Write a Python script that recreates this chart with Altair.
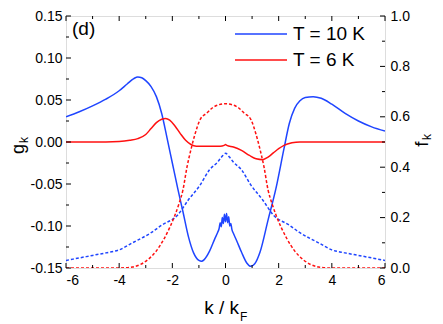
import altair as alt
import pandas as pd

# ---------------- data ----------------
# g_k, T = 10 K (solid blue, left axis)
k_g10 = [-6, -5.5, -5, -4.5, -4, -3.7, -3.45, -3.3, -3.15, -3.0, -2.8, -2.6, -2.4, -2.2, -2.0,
         -1.8, -1.6, -1.4, -1.2, -1.0, -0.9, -0.8, -0.6, -0.4, -0.3,
         -0.24, -0.2, -0.16, -0.12, -0.08, -0.04, 0.0, 0.04, 0.08, 0.12, 0.16, 0.2, 0.24,
         0.3, 0.4, 0.6, 0.8, 0.95, 1.1, 1.3, 1.6, 1.9, 2.2, 2.4, 2.6, 2.8,
         3.0, 3.3, 3.6, 4.0, 4.5, 5.0, 5.5, 6.0]
g_10 = [0.030, 0.036, 0.043, 0.051, 0.061, 0.069, 0.0755, 0.0775, 0.0765, 0.073, 0.066, 0.054, 0.034, 0.005, -0.025,
        -0.055, -0.083, -0.112, -0.132, -0.141, -0.142, -0.140, -0.130, -0.115, -0.108,
        -0.103, -0.096, -0.101, -0.090, -0.097, -0.086, -0.095, -0.085, -0.096, -0.089, -0.100, -0.097, -0.104,
        -0.109, -0.116, -0.131, -0.144, -0.148, -0.145, -0.131, -0.093, -0.055, -0.008, 0.022, 0.040, 0.049,
        0.053, 0.054, 0.052, 0.045, 0.034, 0.025, 0.018, 0.013]

# g_k, T = 6 K (solid red, left axis)
k_g6 = [-6, -5, -4.5, -4, -3.6, -3.3, -3.0, -2.8, -2.6, -2.4, -2.25, -2.1, -1.9, -1.7, -1.5,
        -1.3, -1.1, -0.8, -0.5, -0.2, -0.05, 0.0, 0.05, 0.3, 0.6, 0.9, 1.15, 1.4, 1.6, 1.8,
        2.0, 2.2, 2.5, 2.8, 3.5, 6.0]
g_6 = [0.0, 0.0, 0.0, 0.0005, 0.002, 0.004, 0.009, 0.016, 0.023, 0.027, 0.028, 0.026, 0.019, 0.010, 0.002,
       -0.003, -0.005, -0.005, -0.005, -0.005, -0.004, -0.003, -0.004, -0.006, -0.010, -0.016, -0.020, -0.021, -0.018, -0.013,
       -0.008, -0.004, -0.001, 0.0, 0.0, 0.0]

# f_k, T = 10 K (dashed blue, right axis)
k_f10 = [-6, -5.5, -5, -4.5, -4.0, -3.5, -2.8, -2.4, -1.8, -1.4, -0.95, -0.6, -0.3, -0.15, 0.0,
         0.15, 0.3, 0.6, 0.95, 1.4, 1.8, 2.4, 2.8, 3.5, 4.0, 4.5, 5, 5.5, 6]
f_10 = [0.03, 0.04, 0.05, 0.06, 0.072, 0.10, 0.14, 0.17, 0.21, 0.27, 0.33, 0.39, 0.42, 0.44, 0.455,
        0.44, 0.42, 0.39, 0.33, 0.27, 0.21, 0.17, 0.14, 0.10, 0.072, 0.06, 0.05, 0.04, 0.03]

# f_k, T = 6 K (dashed red, right axis)
k_f6 = [-6, -5, -4, -3.5, -3.2, -2.9, -2.6, -2.3, -2.1, -1.9, -1.75, -1.6, -1.45, -1.3, -1.15,
        -0.95, -0.7, -0.5, -0.25, 0.0, 0.25, 0.5, 0.7, 0.95, 1.15, 1.3, 1.45, 1.6, 1.75, 1.9,
        2.1, 2.3, 2.6, 2.9, 3.2, 3.5, 4, 5, 6]
f_6 = [0.0, 0.0, 0.0, 0.004, 0.014, 0.035, 0.068, 0.118, 0.16, 0.21, 0.255, 0.31, 0.40, 0.47, 0.53,
       0.59, 0.615, 0.635, 0.648, 0.652, 0.648, 0.635, 0.615, 0.59, 0.53, 0.47, 0.40, 0.31, 0.255, 0.21,
       0.16, 0.118, 0.068, 0.035, 0.014, 0.004, 0.0, 0.0, 0.0]

series = ["T = 10 K", "T = 6 K"]
colors = ["#1f45ff", "#ff1010"]

k_major = [-6, -4, -2, 0, 2, 4, 6]
k_minor = [-5, -3, -1, 1, 3, 5]
g_major = [-0.15, -0.10, -0.05, 0.0, 0.05, 0.10, 0.15]
g_minor = [-0.125, -0.075, -0.025, 0.025, 0.075, 0.125]
f_major = [0.0, 0.2, 0.4, 0.6, 0.8, 1.0]
f_minor = [0.1, 0.3, 0.5, 0.7, 0.9]

panel_label = "(d)"
x_title, x_sub = "k / k", "F"
y_title, y_sub = "g", "k"
y2_title, y2_sub = "f", "k"

# ---------------- tables ----------------
df_g = pd.concat([
    pd.DataFrame({"k": k_g10, "v": g_10, "T": series[0]}),
    pd.DataFrame({"k": k_g6, "v": g_6, "T": series[1]}),
])
df_f = pd.concat([
    pd.DataFrame({"k": k_f10, "v": f_10, "T": series[0]}),
    pd.DataFrame({"k": k_f6, "v": f_6, "T": series[1]}),
])

W, H = 319, 252
FONT = "Liberation Sans"

xscale = alt.Scale(domain=[-6, 6], nice=False, zero=False)
gscale = alt.Scale(domain=[-0.15, 0.15], nice=False, zero=False)
fscale = alt.Scale(domain=[0, 1], nice=False, zero=False)
cscale = alt.Scale(domain=series, range=colors)

xenc = alt.X("k:Q", scale=xscale,
             axis=alt.Axis(values=k_major, ticks=False, domain=False, grid=False, title=None,
                           labelPadding=5, labelFontSize=14, labelFont=FONT, labelColor="black",
                           labelExpr="datum.value < 0 ? '-' + format(-datum.value, 'd') : format(datum.value, 'd')"))

g_lines = alt.Chart(df_g).mark_line(strokeWidth=1.5, clip=True, interpolate="monotone").encode(
    x=xenc,
    y=alt.Y("v:Q", scale=gscale,
            axis=alt.Axis(values=g_major, ticks=False, domain=False, grid=False, title=None,
                          labelPadding=4, labelFontSize=14, labelFont=FONT, labelColor="black",
                          labelExpr="datum.value < -0.0001 ? '-' + format(-datum.value, '.2f') : format(abs(datum.value), '.2f')")),
    color=alt.Color("T:N", scale=cscale, legend=None),
    detail="T:N",
)

f_lines = alt.Chart(df_f).mark_line(strokeWidth=1.5, strokeDash=[3, 2], clip=True, interpolate="monotone").encode(
    x=xenc,
    y=alt.Y("v:Q", scale=fscale,
            axis=alt.Axis(orient="right", values=f_major, ticks=False, domain=False, grid=False, title=None,
                          labelPadding=5, labelFontSize=14, labelFont=FONT, labelColor="black",
                          format=".1f")),
    color=alt.Color("T:N", scale=cscale, legend=None),
    detail="T:N",
)


def vticks(vals, scale, x0, x1):
    return alt.Chart(pd.DataFrame({"t": vals})).mark_rule(color="black", strokeWidth=1).encode(
        y=alt.Y("t:Q", scale=scale, axis=None), x=alt.value(x0), x2=alt.value(x1))


def hticks(vals, y0, y1):
    return alt.Chart(pd.DataFrame({"k": vals})).mark_rule(color="black", strokeWidth=1).encode(
        x=xenc, y=alt.value(y0), y2=alt.value(y1))


ticks = [
    vticks(g_major, gscale, 0, 5), vticks(g_minor, gscale, 0, 3),
    vticks(f_major, fscale, W - 5, W), vticks(f_minor, fscale, W - 3, W),
    hticks(k_major, H, H - 5), hticks(k_minor, H, H - 3),
    hticks(k_major, 0, 5), hticks(k_minor, 0, 3),
]


def text(s, x, y, size, align="left", baseline="alphabetic", angle=0, color="black"):
    return alt.Chart(pd.DataFrame({"s": [s]})).mark_text(
        font=FONT, fontSize=size, align=align, baseline=baseline, angle=angle, color=color
    ).encode(x=alt.value(x), y=alt.value(y), text="s:N")


def legend_line(color, x0, x1, y):
    return alt.Chart(pd.DataFrame({"s": [color]})).mark_rule(color=color, strokeWidth=1.5).encode(
        x=alt.value(x0), x2=alt.value(x1), y=alt.value(y))


decor = [
    text(panel_label, 6, 19, 19),
    legend_line(colors[0], 169, 221, 18),
    legend_line(colors[1], 169, 221, 44),
    text(series[0], 227, 18, 19, baseline="middle"),
    text(series[1], 227, 44, 19, baseline="middle"),
    text(x_title, 173, 298, 19, align="right"),
    text(x_sub, 174, 305, 12),
    text(y_title, -42, 133, 18, align="center", angle=270),
    text(y_sub, -38, 124, 12, align="center", angle=270),
    text(y2_title, W + 43, 128, 19, align="center", angle=270),
    text(y2_sub, W + 46, 121, 12, align="center", angle=270),
]

chart = alt.layer(g_lines, f_lines, *ticks, *decor).resolve_scale(y="independent").properties(
    width=W, height=H,
    autosize=alt.AutoSizeParams(type="none"),
    padding={"left": 58, "top": 8, "right": 50, "bottom": 56},
).configure_view(stroke="black", strokeWidth=1.2).configure(background="white")

chart.save("out.html", embed_options={"renderer": "svg", "actions": False})
